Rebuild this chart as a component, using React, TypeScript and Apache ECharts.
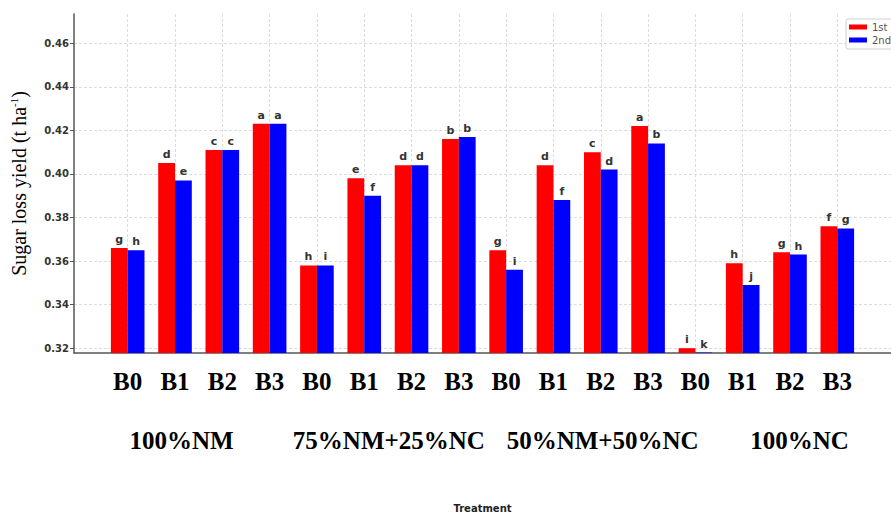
import React, { useEffect, useRef } from "react";
import * as echarts from "echarts";

// Treatment levels (B0–B3) repeated for each of the four fertiliser groups
const levels = ["B0", "B1", "B2", "B3", "B0", "B1", "B2", "B3", "B0", "B1", "B2", "B3", "B0", "B1", "B2", "B3"];
const groups = ["100%NM", "75%NM+25%NC", "50%NM+50%NC", "100%NC"];

// Sugar loss yield (t ha-1) for the two seasons
const firstSeason = [0.366, 0.405, 0.411, 0.423, 0.358, 0.398, 0.404, 0.416, 0.365, 0.404, 0.41, 0.422, 0.32, 0.359, 0.364, 0.376];
const secondSeason = [0.365, 0.397, 0.411, 0.423, 0.358, 0.39, 0.404, 0.417, 0.356, 0.388, 0.402, 0.414, 0.318, 0.349, 0.363, 0.375];

// Mean-separation letters
const firstLetters = ["g", "d", "c", "a", "h", "e", "d", "b", "g", "d", "c", "a", "i", "h", "g", "f"];
const secondLetters = ["h", "e", "c", "a", "i", "f", "d", "b", "i", "f", "d", "b", "k", "j", "h", "g"];

const yTicks = [0.32, 0.34, 0.36, 0.38, 0.4, 0.42, 0.44, 0.46];

// x positions (in category units) where the group captions sit
const groupAnchors = [1.14, 5.52, 10.04, 14.2];

const levelIdx = levels.map((_, i) => i);

const grey = "#dcdcdc";

export default function App() {
  const ref = useRef<HTMLDivElement>(null);

  useEffect(() => {
    if (!ref.current) return;
    const chart = echarts.init(ref.current, null, { renderer: "svg" });

    const valueLabel = (letters: string[]) => ({
      show: true,
      position: "top" as const,
      distance: 3,
      formatter: (p: any) => letters[p.dataIndex],
      fontFamily: "DejaVu Sans",
      fontWeight: "bold" as const,
      fontSize: 11,
      color: "#333",
    });

    chart.setOption({
      animation: false,
      backgroundColor: "#fff",
      grid: { left: 72.5, top: 14, width: 829, height: 343.3, containLabel: false },
      legend: {
        data: ["1st", "2nd"],
        orient: "vertical",
        left: 846,
        top: 19,
        itemWidth: 18,
        itemHeight: 5,
        itemGap: 3,
        padding: [3, 4, 4, 3],
        borderColor: "#d0d0d0",
        borderWidth: 1,
        borderRadius: 2,
        backgroundColor: "rgba(255,255,255,0.85)",
        textStyle: { fontFamily: "DejaVu Sans", fontSize: 10, color: "#555" },
        icon: "rect",
      },
      xAxis: [
        {
          type: "value",
          min: -1.135,
          max: 16.135,
          axisLine: { show: true, onZero: false, lineStyle: { color: "#555", width: 1.5 } },
          axisTick: { show: false, customValues: levelIdx },
          splitLine: { show: true, lineStyle: { color: grey, type: [3, 2], width: 1 } },
          axisLabel: {
            customValues: levelIdx,
            formatter: (v: number) => levels[Math.round(v)] ?? "",
            fontFamily: "Liberation Serif",
            fontWeight: "bold",
            fontSize: 25,
            color: "#000",
            margin: 16,
          },
          name: "Treatment",
          nameLocation: "middle",
          nameGap: 150,
          nameTextStyle: { fontFamily: "DejaVu Sans", fontWeight: "bold", fontSize: 10, color: "#222" },
        },
        {
          type: "value",
          position: "bottom",
          offset: 59,
          min: -1.135,
          max: 16.135,
          axisLine: { show: false, onZero: false },
          axisTick: { show: false, customValues: groupAnchors },
          splitLine: { show: false },
          axisLabel: {
            customValues: groupAnchors,
            formatter: (v: number) => {
              const k = groupAnchors.findIndex((a) => Math.abs(a - v) < 1e-6);
              return k >= 0 ? groups[k] : "";
            },
            fontFamily: "Liberation Serif",
            fontWeight: "bold",
            fontSize: 25,
            color: "#000",
            margin: 16,
          },
        },
      ],
      yAxis: {
        type: "value",
        min: 0.3178,
        max: 0.4734,
        axisLine: { show: true, onZero: false, lineStyle: { color: "#555", width: 1.5 } },
        axisTick: { show: true, length: 4, customValues: yTicks, lineStyle: { color: "#555" } },
        splitLine: { show: true, lineStyle: { color: grey, type: [3, 2], width: 1 } },
        axisLabel: {
          customValues: yTicks,
          formatter: (v: number) => v.toFixed(2),
          fontFamily: "DejaVu Sans",
          fontWeight: "bold",
          fontSize: 10,
          color: "#333",
          margin: 5,
        },
        name: "{a|Sugar loss yield (t ha}{sup|-1}{a|)}",
        nameLocation: "middle",
        nameGap: 45,
        nameRotate: 90,
        nameTextStyle: {
          rich: {
            a: { fontFamily: "Liberation Serif", fontSize: 20, color: "#000" },
            sup: { fontFamily: "Liberation Serif", fontSize: 11, color: "#000", padding: [0, 0, 10, 0] },
          },
        },
      },
      series: [
        {
          name: "1st",
          type: "bar",
          xAxisIndex: 0,
          barWidth: 16.8,
          barGap: "0%",
          itemStyle: { color: "#ff0000" },
          label: valueLabel(firstLetters),
          data: firstSeason.map((v, i) => [i, v]),
        },
        {
          name: "2nd",
          type: "bar",
          xAxisIndex: 0,
          barWidth: 16.8,
          barGap: "0%",
          itemStyle: { color: "#0000ff" },
          label: valueLabel(secondLetters),
          data: secondSeason.map((v, i) => [i, v]),
        },
      ],
    });

    return () => chart.dispose();
  }, []);

  return <div ref={ref} style={{ width: 891, height: 518, position: "absolute", left: 0, top: 0 }} />;
}
